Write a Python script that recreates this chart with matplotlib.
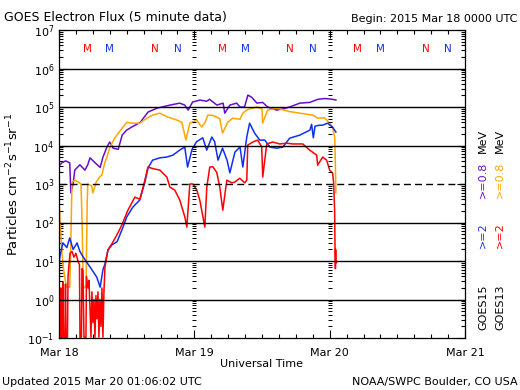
import numpy as np
import matplotlib.pyplot as plt
from matplotlib.ticker import FixedLocator, LogLocator, NullFormatter

# czas w godzinach od 2015-03-18 00:00 UTC, strumien jako log10
t_g15_08 = [0.2, 0.5, 1.2, 1.9, 2.1, 2.5, 2.8, 3.7, 4.6, 5.1, 5.5, 6.4, 7.3, 7.8, 8.5, 9.0, 9.6,
            10.5, 11.2, 12.0, 12.9, 14.4, 15.8, 17.4, 19.7, 21.4, 22.3, 22.9, 23.7, 25.0, 26.2,
            26.7, 28.0, 29.1, 29.4, 30.3, 31.5, 32.1, 32.9, 33.5, 34.2, 35.1, 36.1, 37.0, 38.6,
            39.7, 40.9, 42.7, 44.5, 45.9, 47.1, 48.5, 49.1]
f_g15_08 = [3.5, 3.55, 3.6, 3.55, 2.77, 3.0, 3.36, 3.5, 3.36, 3.5, 3.68, 3.55, 3.43, 3.7, 3.96,
            4.09, 3.93, 3.9, 4.27, 4.4, 4.48, 4.6, 4.87, 4.97, 5.05, 5.1, 5.05, 4.92, 5.13, 5.18,
            5.15, 5.2, 5.05, 5.1, 4.84, 5.05, 5.1, 5.0, 5.0, 5.31, 5.25, 5.1, 5.12, 5.0, 4.92,
            4.95, 5.0, 5.1, 5.12, 5.2, 5.22, 5.2, 5.18]

t_g13_08 = [0.0, 0.2, 0.5, 0.7, 1.1, 1.4, 1.9, 2.1, 2.3, 2.8, 3.4, 3.9, 4.1, 4.3, 4.6, 4.8, 5.0,
            5.1, 5.8, 6.0, 6.6, 7.3, 7.6, 8.1, 8.5, 9.0, 9.9, 11.2, 12.0, 13.1, 14.3, 15.6, 16.6,
            17.9, 19.1, 20.9, 21.8, 22.5, 23.2, 24.4, 25.3, 25.9, 26.4, 27.3, 28.5, 29.0, 29.9,
            30.8, 32.1, 32.6, 33.3, 33.8, 35.1, 36.0, 36.1, 37.0, 38.6, 40.9, 42.7, 45.0, 45.9,
            47.1, 48.0, 48.5, 48.9, 49.0, 49.1]
f_g13_08 = [2.6, 2.0, 1.3, 0.9, 0.5, 0.32, 0.32, 1.5, 3.05, 3.1, 3.05, 3.0, 2.0, 0.35, 0.3, 0.4,
            2.5, 3.0, 2.95, 2.77, 3.05, 3.2, 3.23, 3.55, 3.7, 3.94, 4.2, 4.45, 4.6, 4.58, 4.58,
            4.71, 4.79, 4.84, 4.75, 4.66, 4.6, 4.14, 4.58, 4.66, 4.48, 4.6, 4.79, 4.78, 4.7, 4.32,
            4.6, 4.71, 4.68, 4.84, 4.92, 4.95, 5.0, 4.95, 4.58, 4.92, 4.97, 4.88, 4.84, 4.79,
            4.71, 4.72, 4.58, 4.48, 4.2, 3.6, 2.77]

t_g15_2 = [0.0, 0.2, 0.7, 1.4, 1.9, 2.5, 3.2, 3.7, 4.3, 5.0, 5.8, 6.7, 7.3, 7.8, 8.1, 8.7, 9.4,
           10.3, 10.8, 11.3, 12.0, 13.1, 14.3, 15.2, 15.8, 16.6, 17.9, 19.1, 20.2, 21.4, 22.3,
           22.8, 23.6, 24.4, 25.5, 26.2, 27.1, 27.6, 28.2, 29.0, 29.8, 30.3, 31.2, 32.1, 32.6,
           33.3, 33.8, 34.7, 35.6, 36.5, 37.4, 38.6, 39.7, 40.9, 42.7, 44.5, 44.8, 45.1, 45.4,
           45.9, 46.8, 47.6, 48.5, 49.1]
f_g15_2 = [0.95, 1.15, 1.47, 1.35, 1.6, 1.3, 1.47, 1.25, 1.1, 0.95, 0.78, 0.58, 0.32, 0.78, 0.9,
           1.29, 1.42, 1.5, 1.68, 1.86, 2.14, 2.4, 2.58, 3.03, 3.42, 3.62, 3.68, 3.7, 3.75, 3.88,
           3.96, 3.44, 3.9, 4.1, 4.2, 3.88, 4.22, 4.1, 3.62, 3.93, 3.62, 3.29, 3.83, 3.96, 3.44,
           4.22, 4.58, 4.32, 4.14, 4.14, 3.96, 3.93, 3.96, 4.19, 4.27, 4.4, 4.55, 4.2, 4.5, 4.52,
           4.53, 4.58, 4.48, 4.35]

t_g13_2 = [0.0, 0.1, 0.27, 0.35, 0.44, 0.62, 0.7, 0.8, 1.06, 1.15, 1.24, 1.5, 1.6, 1.77, 1.95,
           2.3, 2.66, 3.0, 3.37, 3.63, 3.72, 3.98, 4.07, 4.25, 4.43, 4.78, 4.87, 5.14, 5.31, 5.49,
           5.67, 5.84, 6.02, 6.2, 6.38, 6.55, 6.73, 6.91, 7.08, 7.26, 7.44, 7.62, 7.79, 7.97,
           8.15, 8.68, 9.39, 10.27, 11.16, 12.22, 13.46, 14.35, 15.23, 15.76, 16.65, 17.89, 19.13,
           19.66, 20.54, 21.43, 22.32, 22.67, 23.2, 23.73, 24.44, 24.97, 25.86, 26.21, 26.74,
           27.27, 27.98, 28.51, 29.05, 29.76, 30.64, 31.17, 32.06, 32.94, 33.3, 33.47, 34.36,
           35.24, 35.95, 36.13, 36.84, 37.9, 39.14, 40.38, 41.45, 43.22, 44.46, 45.7, 45.87,
           46.76, 47.46, 48.0, 48.53, 48.7, 48.88, 48.95, 49.02, 49.06, 49.1]
f_g13_2 = [0.5, -1, -1, 0.3, -1, -1, 0.45, -1, -1, 0.4, -1, -1, 0.6, 0.9, 1.2,
           1.25, 1.1, 1.2, 1.0, 0.9, -1, -1, 0.8, 0.75, -1, -1, 0.6, 0.3, 0.5, -0.2,
           -1, 0.2, -0.6, 0.0, -1, 0.1, -0.5, 0.2, -1, 0.0, -0.7, 0.3, -1, 0.2,
           0.84, 1.29, 1.45, 1.68, 1.94, 2.32, 2.66, 2.6, 3.1, 3.44, 3.4, 3.36, 3.18,
           2.92, 2.84, 2.58, 2.14, 1.88, 3.0, 3.0, 2.84, 2.58, 1.88, 2.92, 3.44,
           3.45, 3.3, 2.92, 2.32, 3.1, 3.03, 3.05, 3.15, 3.03, 3.1, 4.01, 4.09,
           4.14, 3.96, 3.18, 4.04, 4.09, 4.04, 4.06, 4.04, 4.04, 3.88, 3.75, 3.49,
           3.7, 3.62, 3.36, 3.28, 3.03, 2.32, 1.36, 0.8, 1.3, 0.95]

day_labels = ['Mar 18', 'Mar 19', 'Mar 20', 'Mar 21']
# M/N = polnoc/poludnie lokalne: (godzina, litera, satelita)
mn_marks = [(5, 'M', 13), (9, 'M', 15), (17, 'N', 13), (21, 'N', 15)]

c_purple = '#6a0dc8'
c_orange = '#ffa500'
c_blue = '#1030f0'
c_red = '#ff0000'

fig = plt.figure(figsize=(5.2, 3.9), dpi=100)
ax = fig.add_axes([59 / 520, 1 - 338 / 390, 406 / 520, 308 / 390])

ax.plot(t_g15_08, 10 ** np.array(f_g15_08), color=c_purple, lw=1.1)
ax.plot(t_g13_08, 10 ** np.array(f_g13_08), color=c_orange, lw=1.1)
ax.plot(t_g15_2, 10 ** np.array(f_g15_2), color=c_blue, lw=1.1)
ax.plot(t_g13_2, 10 ** np.clip(f_g13_2, -0.98, None), color=c_red, lw=1.1)

ax.set_yscale('log')
ax.set_ylim(1e-1, 1e7)
ax.set_xlim(0, 72)

for k in range(0, 7):
    if k == 3:
        ax.axhline(10.0 ** k, color='black', lw=1.0, ls=(0, (5, 3)))
    else:
        ax.axhline(10.0 ** k, color='black', lw=1.0)

# znaczniki log na granicach dni
minors = [m * 10.0 ** k for k in range(-1, 7) for m in range(2, 10)]
for d in (24, 48):
    ax.plot([d] * len(minors), minors, ls='none', marker='_', ms=3, mew=0.7, color='black')

ax.set_xticks([0, 24, 48, 72])
ax.set_xticklabels(day_labels)
ax.xaxis.set_minor_locator(FixedLocator(np.arange(0, 73, 3)))
ax.yaxis.set_major_locator(LogLocator(base=10, numticks=20))
ax.yaxis.set_minor_locator(LogLocator(base=10, subs=np.arange(2, 10), numticks=20))
ax.yaxis.set_minor_formatter(NullFormatter())
ax.tick_params(which='both', direction='in', top=True, right=True, labelsize=8, width=0.8)
ax.tick_params(which='major', length=6)
ax.tick_params(which='minor', length=3)
ax.tick_params(axis='x', pad=7)
for s in ax.spines.values():
    s.set_linewidth(0.9)

ax.set_xlabel('Universal Time', fontsize=8, labelpad=1)
ax.set_ylabel('Particles cm$^{-2}$s$^{-1}$sr$^{-1}$', fontsize=9.5, labelpad=4)

for day in range(3):
    for h, ch, sat in mn_marks:
        ax.text(day * 24 + h, 3.2e6, ch, color=c_red if sat == 13 else c_blue,
                fontsize=7.5, ha='center', va='center')

fig.text(4 / 520, 1 - 17 / 390, 'GOES Electron Flux (5 minute data)', fontsize=9, va='center')
fig.text(517 / 520, 1 - 19 / 390, 'Begin: 2015 Mar 18 0000 UTC', fontsize=8, ha='right', va='center')
fig.text(2 / 520, 1 - 382 / 390, 'Updated 2015 Mar 20 01:06:02 UTC', fontsize=8, va='center')
fig.text(518 / 520, 1 - 382 / 390, 'NOAA/SWPC Boulder, CO USA', fontsize=8, ha='right', va='center')

# legenda z boku, pionowo
legend_cols = [(483, [('GOES15', 'black', 330), ('>=2', c_blue, 248), ('>=0.8', c_purple, 198), ('MeV', 'black', 153)]),
               (500, [('GOES13', 'black', 330), ('>=2', c_red, 248), ('>=0.8', c_orange, 198), ('MeV', 'black', 153)])]
for xc, parts in legend_cols:
    for txt, col, yb in parts:
        fig.text(xc / 520, 1 - yb / 390, txt, color=col, fontsize=8, rotation=90,
                 ha='center', va='bottom')

fig.savefig('out.png', dpi=100)
